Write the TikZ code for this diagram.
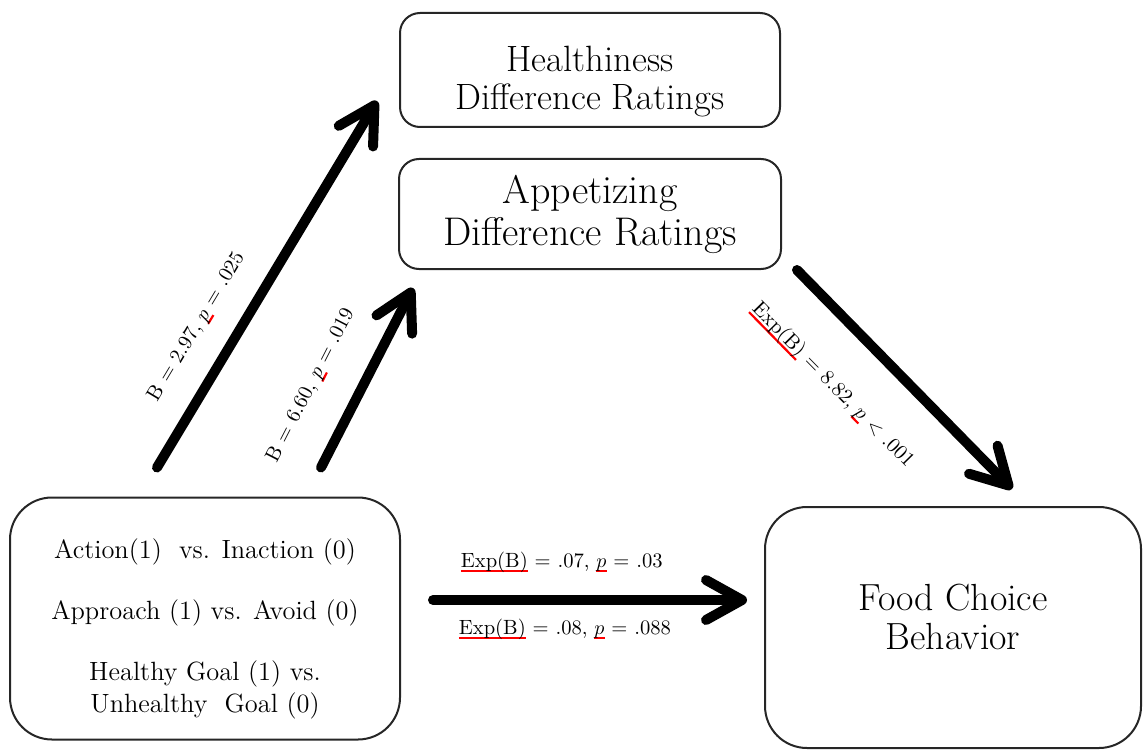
\documentclass[tikz,border=0pt]{standalone}
\usetikzlibrary{arrows.meta,positioning,calc}

\newcommand{\redul}[1]{\leavevmode\setbox0\hbox{#1}\rlap{\color{red}\pgfsetstrokecolor{red}\pgfsetfillcolor{red}\rule[-2.2pt]{\wd0}{1.1pt}}\box0\relax}

\begin{document}
\begin{tikzpicture}[
    x=0.5pt, y=0.5pt,
    box/.style={draw=black!85, line width=1pt, rounded corners=10pt, align=center, inner sep=0pt},
    bigbox/.style={box, rounded corners=21pt, minimum height=121pt},
    path arrow/.style={line width=5pt, line cap=round, -{Straight Barb[length=18pt, width=20pt, round]}},
    coef/.style={font=\fontsize{10.3}{12}\selectfont, inner sep=0pt}
  ]
    \useasboundingbox (0,0) rectangle (1143,751);

    \node[box, minimum width=190pt, minimum height=57pt, font=\fontsize{18.3}{19}\selectfont] (health) at (590,681) {\rule{0pt}{24.5pt}Healthiness\\Difference Ratings};
    \node[box, below=15pt of health, minimum width=191pt, minimum height=55pt, font=\fontsize{20}{21}\selectfont] (appet) {Appetizing\\Difference Ratings};
    \node[bigbox, minimum width=195pt, font=\fontsize{13.2}{16}\selectfont] (goals) at (205,132.5)
      {\rule{0pt}{20pt}Action(1)\ \ vs. Inaction (0)\\[14.5pt] Approach (1) vs. Avoid (0)\\[14.5pt] Healthy Goal (1) vs.\\ Unhealthy\ \ Goal (0)};
    \node[bigbox, minimum width=188pt, minimum height=120.5pt, font=\fontsize{18.9}{19.5}\selectfont] (food) at (953,123.5) {Food Choice\\Behavior\\[-9pt]};

    \coordinate (h-from) at ($(goals.north west)+(148,29)$);
    \coordinate (h-to) at ($(health.south west)+(-22,27)$);
    \coordinate (a-from) at ($(goals.north west)+(312,29)$);
    \coordinate (a-to) at ($(appet.south west)+(15,-18)$);
    \coordinate (f-from) at ($(appet.south east)+(15,0)$);
    \coordinate (f-to) at ($(food.north)+(59,17)$);
    \coordinate (d-from) at ($(goals.east)+(32,18.5)$);
    \coordinate (d-to) at ($(food.west)+(-17,27.5)$);

    \draw[path arrow] (h-from) -- node[coef, sloped, pos=0.33, above=12pt] {B = 2.97, \redul{$p$} = .025} (h-to);
    \draw[path arrow] (a-from) -- node[coef, sloped, pos=0.34, above=16pt] {B = 6.60, \redul{$p$} = .019} (a-to);
    \draw[path arrow] (f-from) -- node[coef, sloped, pos=0.35, below=20pt] {\redul{Exp(B)} = 8.82, \redul{$p$} $<$ .001} (f-to);
    \draw[path arrow] (d-from) -- node[coef, pos=0.41, above=11pt] {\redul{Exp(B)} = .07, \redul{$p$} = .03}
      node[coef, pos=0.42, below=7pt] {\redul{Exp(B)} = .08, \redul{$p$} = .088} (d-to);
  \end{tikzpicture}
\end{document}
